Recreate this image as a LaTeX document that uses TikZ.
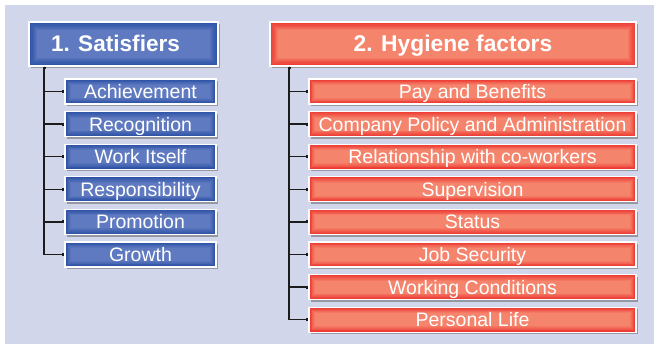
\documentclass[tikz,border=0pt]{standalone}
\usepackage{fontspec}
\setmainfont{Liberation Sans}
\usetikzlibrary{shadows,arrows.meta}
\definecolor{bgc}{HTML}{D2D6EA}
\definecolor{bedge}{HTML}{2A4FA3}
\definecolor{bmid}{HTML}{5F7AC0}
\definecolor{redge}{HTML}{EC3630}
\definecolor{rmid}{HTML}{F5846C}
\definecolor{linec}{HTML}{1C1C1C}
\tikzset{
  glow/.style n args={3}{path picture={
    \foreach \i/\p in {0/0,1/14,2/28,3/42,4/56,5/70,6/84,7/100}{
      \fill[#2!\p!#1] ([shift={(\i*#3,-\i*#3)}]path picture bounding box.north west)
        rectangle ([shift={(-\i*#3,\i*#3)}]path picture bounding box.south east);
    }}},
  basebox/.style={draw=white, line width=1.2pt, text=white, inner sep=0pt,
    drop shadow={shadow xshift=2.2pt, shadow yshift=-2.2pt, opacity=0.45, fill=black!70}},
  bluehead/.style={basebox, glow={bedge}{bmid}{1.2pt}, minimum width=189pt, minimum height=44pt,
    text height=17pt, text depth=1pt, font=\fontsize{22.6}{26}\selectfont\bfseries},
  redhead/.style={basebox, glow={redge}{rmid}{1.2pt}, minimum width=366pt, minimum height=44pt,
    text height=17pt, text depth=1pt, font=\fontsize{22.8}{26}\selectfont\bfseries},
  blueitem/.style={basebox, glow={bedge}{bmid}{0.85pt}, minimum width=151pt, minimum height=25pt,
    text height=14pt, text depth=0pt, font=\fontsize{19.5}{22}\selectfont},
  reditem/.style={basebox, glow={redge}{rmid}{0.85pt}, minimum width=327pt, minimum height=25pt,
    text height=14pt, text depth=0pt, font=\fontsize{19.5}{22}\selectfont},
  conn/.style={draw=linec, line width=1.3pt, -{Square[length=2.4pt,width=3pt]}},
}
\begin{document}
\begin{tikzpicture}[x=1pt,y=1pt]
\useasboundingbox (0,0) rectangle (654,-344);
\fill[bgc] (5,-5) rectangle (654,-344);

\node[bluehead] (h1) at (123.5,-44) {1. Satisfiers\hspace*{16pt}};
\node[redhead] (h2) at (453,-44) {2. Hygiene factors};

\node[blueitem] (a1) at (140.5,-91.5) {Achievement};
\node[blueitem] (a2) at (140.5,-124.1) {Recognition};
\node[blueitem] (a3) at (140.5,-156.7) {Work Itself};
\node[blueitem] (a4) at (140.5,-189.3) {Responsibility};
\node[blueitem] (a5) at (140.5,-221.9) {Promotion};
\node[blueitem] (a6) at (140.5,-254.5) {Growth};

\node[reditem] (b1) at (472.5,-91.5) {Pay and Benefits};
\node[reditem] (b2) at (472.5,-124.1) {Company Policy and Administration};
\node[reditem] (b3) at (472.5,-156.7) {Relationship with co-workers};
\node[reditem] (b4) at (472.5,-189.3) {Supervision};
\node[reditem] (b5) at (472.5,-221.9) {Status};
\node[reditem] (b6) at (472.5,-254.5) {Job Security};
\node[reditem] (b7) at (472.5,-287.1) {Working Conditions};
\node[reditem] (b8) at (472.5,-319.7) {Personal Life};

\coordinate (t1) at (44,-66.6);
\coordinate (t2) at (289,-66.6);
\foreach \n in {a1,a2,a3,a4,a5}{\draw[conn] (t1) |- (\n.west);}
\draw[conn, {Square[length=2.4pt,width=3pt]}-{Square[length=2.4pt,width=3pt]}] (t1) |- (a6.west);
\foreach \n in {b1,b2,b3,b4,b5,b6,b7}{\draw[conn] (t2) |- (\n.west);}
\draw[conn, {Square[length=2.4pt,width=3pt]}-{Square[length=2.4pt,width=3pt]}] (t2) |- (b8.west);
\end{tikzpicture}
\end{document}
